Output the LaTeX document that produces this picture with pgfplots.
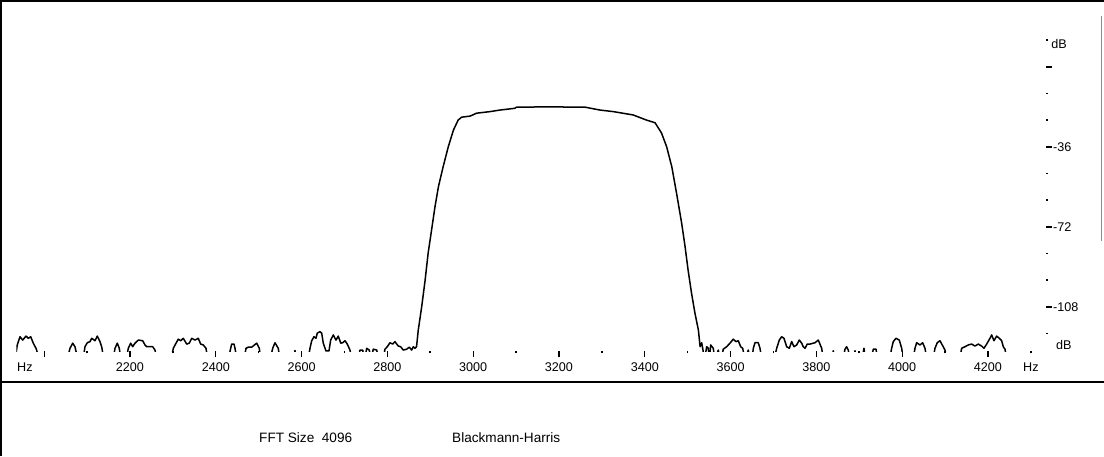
\documentclass[border=0pt]{standalone}
\usepackage{pgfplots}
\pgfplotsset{compat=1.18}
\usepackage{pgfplotstable}
\usepackage{fontspec}
\setmainfont{Liberation Sans}
\pgfplotstableread{
x y
1932 -132
1937.3 -125.1
1943.6 -121.4
1949.9 -122.9
1957.6 -121.1
1963 -122.1
1968.6 -121.4
1974.6 -124.3
1980.9 -126.6
1990 -132
2053 -132
2060.2 -126.6
2066.5 -124.3
2071.8 -125.9
2078.8 -132
2090.5 -132
2095.1 -125.9
2100.5 -124.1
2106.8 -123.6
2110.8 -122.1
2118.5 -123.2
2123.8 -121.1
2130.1 -123.6
2134 -125.9
2139.4 -132
2160.4 -132
2165.1 -126.6
2170.4 -124.3
2175.1 -126.6
2179 -132
2190.7 -132
2196.1 -126.6
2201.7 -124.3
2206.3 -125.9
2211.7 -124.3
2219.4 -122.9
2229.6 -123.2
2235 -125.1
2239 -125.9
2246.7 -125.9
2253 -125.9
2258.3 -127.4
2263 -132
2295.6 -132
2301 -126.6
2307.3 -124.3
2312.6 -122.5
2318.2 -123.2
2324.3 -122.1
2332.2 -124.7
2338.3 -124.3
2343.9 -122.1
2351.5 -122.9
2359.2 -122.1
2364.8 -124.7
2370.9 -125.1
2377.2 -126.6
2381.8 -132
2428.5 -132
2434.8 -126.6
2437.1 -124.7
2442.5 -124.7
2444.8 -126.6
2449.5 -132
2465.8 -132
2470.4 -126.6
2475.8 -126.1
2483.7 -126.1
2495.4 -124.3
2501.4 -126.6
2505.4 -132
2526.4 -132
2532.7 -126.6
2538 -124.1
2545.7 -126.6
2549.7 -132
2580 -132
2584.6 -127.6
2589.3 -132
2615 -132
2619.6 -126.6
2623.6 -123.2
2628.9 -121.4
2633.6 -122.1
2636.6 -119.8
2642.9 -119.1
2646.9 -119.8
2650.6 -124.3
2656.9 -127.8
2663.9 -127.8
2667.8 -122.9
2673.9 -120.6
2680.2 -122.9
2685.6 -121.1
2691.2 -124.3
2695.8 -124.1
2701.2 -123.2
2706.5 -124.7
2712.8 -127.4
2717.5 -132
2731.5 -132
2736.2 -127.4
2742.5 -127.4
2746.7 -132
2751.8 -126.6
2757.9 -127.4
2761.8 -132
2767.1 -127.0
2775.1 -127.4
2780.5 -132
2789.8 -132
2794.4 -127.0
2799.8 -125.9
2806.1 -124.1
2812.4 -124.7
2817.7 -123.6
2825.4 -125.6
2831 -125.9
2837.1 -127.4
2845 -127.0
2851.1 -126.1
2856.7 -127.4
2860.4 -125.9
2864.4 -126.6
2868 -125.9
2872 -118.4
2880 -107.9
2888 -95.9
2895 -83.8
2903 -73.4
2911 -62.9
2919 -53.9
2930 -44.9
2942 -35.9
2954 -28.4
2965 -23.9
2973 -22.6
2993 -22.1
3008 -20.8
3039 -20.1
3062 -19.4
3097 -18.6
3101 -18.1
3150 -18.0
3200 -18.0
3261 -18.1
3296 -19.4
3327 -20.1
3373 -21.6
3404 -23.9
3424 -25.1
3439 -29.7
3451 -35.9
3463 -44.9
3474 -56.7
3486 -70.3
3494 -80.9
3501 -91.4
3509 -101.8
3517 -110.8
3525 -118.4
3529 -125.9
3532.7 -124.1
3535.7 -127.4
3539.2 -132
3544.3 -125.9
3548 -126.6
3550.8 -132
3553.6 -125.1
3559.7 -126.6
3563.7 -132
3571.4 -127.4
3575.3 -132
3578.3 -132
3583 -127.0
3590.9 -125.9
3598.6 -124.3
3606.3 -122.5
3612.6 -123.6
3618 -123.2
3623.6 -125.9
3628.3 -126.6
3633.6 -132
3641.3 -127.4
3645.3 -132
3650 -132
3653 -126.6
3657 -124.1
3664.6 -124.1
3668.6 -126.6
3673.2 -132
3701.2 -132
3707.5 -126.6
3713.6 -122.9
3719.1 -121.4
3724.5 -122.1
3730.8 -125.9
3736.9 -126.6
3742.5 -123.6
3747.8 -125.9
3754.1 -125.1
3760.2 -122.9
3765.8 -124.3
3769.5 -125.9
3773.5 -126.6
3778.8 -124.7
3785.1 -124.7
3796.8 -124.1
3804.5 -122.9
3812.4 -126.6
3816.5 -132
3835.3 -132
3839.4 -127.7
3843.4 -132
3862 -132
3866.7 -127.0
3870.6 -125.9
3874.4 -127.4
3878.4 -132
3885.3 -132
3890 -127.7
3894.7 -132
3906.3 -132
3911 -126.6
3914.5 -132
3927.3 -132
3932.7 -127.0
3939 -127.0
3943.6 -132
3970.4 -132
3975.5 -126.6
3979.3 -123.6
3985.6 -122.1
3993.3 -122.9
3998.9 -126.6
4003 -132
4025.2 -132
4029.9 -126.6
4033.8 -124.1
4041.5 -125.1
4047.8 -124.1
4053.2 -126.6
4057.9 -132
4071.8 -132
4076.5 -126.6
4081.8 -124.1
4088.1 -123.2
4095.8 -125.9
4099.8 -127.4
4104.5 -132
4133.6 -132
4138.7 -126.6
4146.4 -125.9
4154.1 -125.1
4162 -124.7
4169.7 -125.6
4177.4 -124.7
4185.3 -125.6
4190.7 -126.6
4197 -124.7
4204.7 -122.1
4208.7 -120.6
4214 -123.2
4220.3 -121.1
4226.4 -122.1
4232 -123.2
4235.7 -125.9
4239.7 -127.0
4244.4 -132
4335 -132
}\spectrum
\begin{document}
\begin{tikzpicture}[x=1pt,y=1pt]
\path[use as bounding box] (0,0) rectangle (1104,456);
\draw[line width=2pt] (1,0) -- (1,456);
\draw[line width=2pt] (0,455) -- (1104,455);
\draw[black!45, line width=0.8pt] (1101.5,440) -- (1101.5,215);
\draw[line width=1.6pt] (0,74) -- (1104,74);
\node[font=\fontsize{13.6}{15}\selectfont, anchor=base west, inner sep=0pt] at (259,14) {FFT Size\ \ 4096};
\node[font=\fontsize{13.6}{15}\selectfont, anchor=base west, inner sep=0pt] at (452,14) {Blackmann-Harris};
\begin{axis}[
  at={(16.3pt,104.6pt)}, anchor=south west,
  scale only axis, width=1029.6pt, height=311.1pt,
  xmin=1935, xmax=4335, ymin=-128, ymax=12,
  axis x line*=bottom, axis y line*=right,
  axis line style={draw=none},
  clip=true,
  tick align=outside,
  major tick length=6pt, minor tick length=2pt,
  every tick/.style={draw=black},
  major tick style={line width=1.2pt},
  minor tick style={line width=1.6pt},
  xtick={2000,2200,...,4200},
  xticklabels={,2200,2400,2600,2800,3000,3200,3400,3600,3800,4000,4200},
  minor xtick={2100,2300,...,4300},
  ytick={0,-36,-72,-108},
  yticklabels={,-36,-72,-108},
  minor ytick={12,-12,-24,-48,-60,-84,-96,-120},
  xticklabel style={font=\fontsize{12.6}{12}\selectfont, anchor=base, inner sep=0pt, yshift=-14pt},
  yticklabel style={font=\fontsize{12.6}{12}\selectfont, anchor=west, inner sep=1pt},
]
\addplot[black, line width=1.5pt, line join=round] table[x=x,y=y] {\spectrum};
\end{axis}
\begin{axis}[
  at={(16.3pt,104.6pt)}, anchor=south west,
  scale only axis, width=1029.6pt, height=311.1pt,
  xmin=1935, xmax=4335, ymin=-128, ymax=12,
  hide axis, clip=false,
]
\node[font=\fontsize{12.6}{12}\selectfont, anchor=base, inner sep=0pt] at (axis cs:1955,-137) {Hz};
\node[font=\fontsize{12.6}{12}\selectfont, anchor=base, inner sep=0pt] at (axis cs:4300,-137) {Hz};
\node[font=\fontsize{12.6}{12}\selectfont, anchor=center, inner sep=0pt] at (axis cs:4366,10.4) {dB};
\node[font=\fontsize{12.6}{12}\selectfont, anchor=center, inner sep=0pt] at (axis cs:4377,-125.1) {dB};
\end{axis}
\end{tikzpicture}
\end{document}
